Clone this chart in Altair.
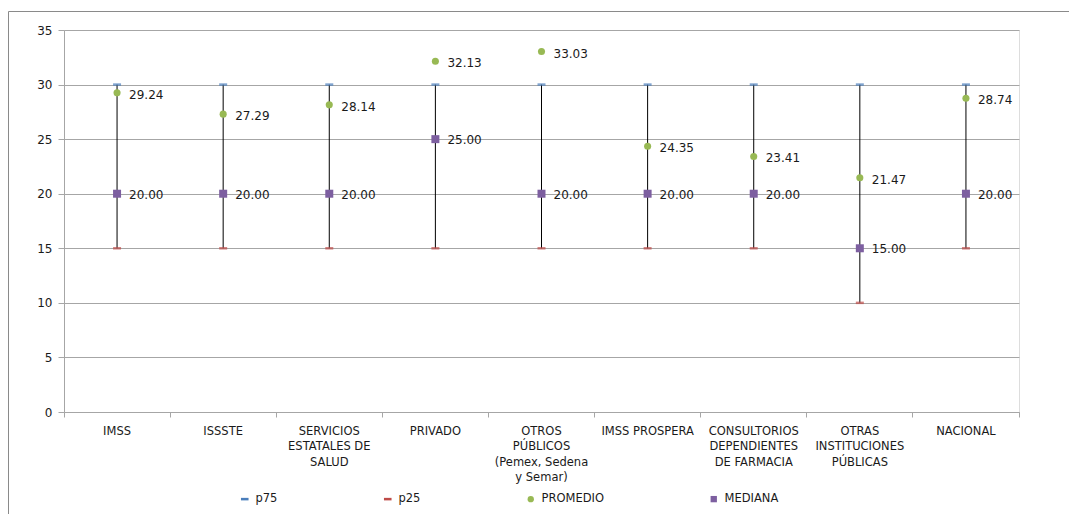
import altair as alt
import pandas as pd

categories = [
    "IMSS",
    "ISSSTE",
    "SERVICIOS|ESTATALES DE|SALUD",
    "PRIVADO",
    "OTROS|PÚBLICOS|(Pemex, Sedena|y Semar)",
    "IMSS PROSPERA",
    "CONSULTORIOS|DEPENDIENTES|DE FARMACIA",
    "OTRAS|INSTITUCIONES|PÚBLICAS",
    "NACIONAL",
]
p75 = [30, 30, 30, 30, 30, 30, 30, 30, 30]
p25 = [15, 15, 15, 15, 15, 15, 15, 10, 15]
promedio = [29.24, 27.29, 28.14, 32.13, 33.03, 24.35, 23.41, 21.47, 28.74]
mediana = [20, 20, 20, 25, 20, 20, 20, 15, 20]

series_names = ["p75", "p25", "PROMEDIO", "MEDIANA"]
series_colors = ["#4a7ebb", "#be4b48", "#98b954", "#7d5fa0"]
series_shapes = ["M-1.2,-0.4H1.2V0.4H-1.2Z", "M-1.2,-0.4H1.2V0.4H-1.2Z", "circle", "square"]

FONT = "DejaVu Sans"
TXT = "#1a1a1a"
GRID = "#a6a6a6"

df = pd.DataFrame({
    "cat": categories,
    "p75": p75,
    "p25": p25,
    "promedio": promedio,
    "mediana": mediana,
})

x_enc = alt.X(
    "cat:N",
    sort=categories,
    scale=alt.Scale(paddingInner=0, paddingOuter=0),
    axis=alt.Axis(
        title=None,
        labelExpr="datum.value ? split(datum.value, '|') : ''",
        labelAngle=0,
        labelAlign="center",
        labelBaseline="top",
        labelLineHeight=15.5,
        labelFontSize=11.5,
        labelFont=FONT,
        labelColor=TXT,
        labelPadding=8,
        labelOverlap=False,
        labelBound=False,
        bandPosition=1,
        tickExtra=True,
        ticks=True,
        tickSize=5,
        tickColor=GRID,
        domainColor=GRID,
        grid=False,
    ),
)

y_scale = alt.Scale(domain=[0, 35], nice=False)
y_axis = alt.Axis(
    title=None,
    values=[0, 5, 10, 15, 20, 25, 30, 35],
    grid=True,
    gridColor=GRID,
    gridWidth=1,
    domainColor=GRID,
    tickColor=GRID,
    tickSize=6,
    labelPadding=6,
    labelFontSize=12,
    labelFont=FONT,
    labelColor=TXT,
)

base = alt.Chart(df)

whisker = base.mark_rule(color="#000000", strokeWidth=1).encode(
    x=x_enc,
    y=alt.Y("p25:Q", scale=y_scale, axis=y_axis),
    y2="p75:Q",
)

tick75 = base.mark_tick(size=8, thickness=2.5, color=series_colors[0]).encode(
    x=alt.X("cat:N", sort=categories), y=alt.Y("p75:Q")
)
tick25 = base.mark_tick(size=8, thickness=2.5, color=series_colors[1]).encode(
    x=alt.X("cat:N", sort=categories), y=alt.Y("p25:Q")
)

pts_med = base.mark_point(filled=True, shape="square", size=64, opacity=1,
                          color=series_colors[3]).encode(
    x=alt.X("cat:N", sort=categories), y=alt.Y("mediana:Q")
)
pts_prom = base.mark_point(filled=True, shape="circle", size=50, opacity=1,
                           color=series_colors[2]).encode(
    x=alt.X("cat:N", sort=categories), y=alt.Y("promedio:Q")
)

lbl_med = base.mark_text(align="left", baseline="middle", dx=12, dy=1,
                         fontSize=12, font=FONT, color=TXT).encode(
    x=alt.X("cat:N", sort=categories), y=alt.Y("mediana:Q"),
    text=alt.Text("mediana:Q", format=".2f"),
)
lbl_prom = base.mark_text(align="left", baseline="middle", dx=12, dy=2,
                          fontSize=12, font=FONT, color=TXT).encode(
    x=alt.X("cat:N", sort=categories), y=alt.Y("promedio:Q"),
    text=alt.Text("promedio:Q", format=".2f"),
)

leg = alt.Legend(
    title=None,
    orient="none",
    legendX=175,
    legendY=463,
    direction="horizontal",
    columns=4,
    columnPadding=104,
    labelOffset=5,
    labelFontSize=11.5,
    labelFont=FONT,
    labelColor=TXT,
    symbolSize=40,
    symbolOpacity=1,
    symbolStrokeWidth=0,
)
legend_layer = alt.Chart(pd.DataFrame({"serie": series_names})).mark_point(
    filled=True, opacity=0
).encode(
    x=alt.value(0),
    y=alt.value(0),
    color=alt.Color("serie:N", sort=series_names,
                    scale=alt.Scale(domain=series_names, range=series_colors),
                    legend=leg),
    shape=alt.Shape("serie:N", sort=series_names,
                    scale=alt.Scale(domain=series_names, range=series_shapes),
                    legend=leg),
)

border = alt.Chart(pd.DataFrame({"b": [0]})).mark_rect(
    fillOpacity=0, stroke="#8a8a8a", strokeWidth=1
).encode(
    x=alt.value(-55.5), x2=alt.value(1200), y=alt.value(-18.5), y2=alt.value(700)
)

chart = alt.layer(
    border, whisker, tick75, tick25, pts_prom, pts_med, lbl_prom, lbl_med, legend_layer
).properties(
    width=955,
    height=382,
    padding={"left": 56, "top": 22, "right": 50, "bottom": 102},
    autosize=alt.AutoSizeParams(type="none"),
).configure_view(stroke=None).configure(background="white")

chart.save("out.html", embed_options={"renderer": "svg", "actions": False})
